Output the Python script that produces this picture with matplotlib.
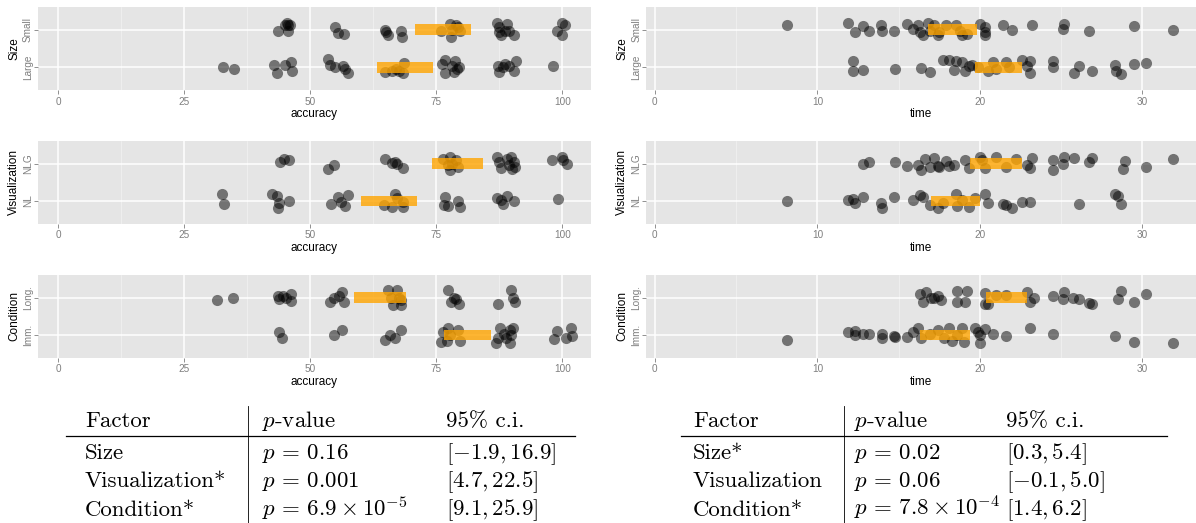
import matplotlib
matplotlib.use("Agg")
import matplotlib.pyplot as plt

plt.rcParams['font.family'] = ['Liberation Sans', 'DejaVu Sans']
plt.rcParams['mathtext.fontset'] = 'cm'

# ---- data: value, and vertical jitter (category units) ----
# accuracy by Size
acc_small = [44.9, 45.4, 45.6, 46.0, 43.5, 45.6, 55.0, 55.4, 56.6, 64.8, 65.1, 65.4, 67.9, 68.1,
             75.9, 77.8, 78.0, 78.9, 79.3, 78.2, 79.7, 87.1, 87.5, 87.9, 88.6, 89.0, 89.5, 90.5, 87.5,
             99.0, 99.9, 100.0, 100.6]
acc_small_j = [.14, .18, .12, .14, -.02, -.04, .07, -.09, -.11, 0, -.06, -.15, -.02, -.18,
               -.02, .16, -.18, .14, .07, 0, -.02, .18, .07, -.15, -.04, .16, -.02, -.15, -.06,
               -.02, .18, -.15, .12]
acc_large = [32.7, 34.9, 42.8, 43.4, 44.9, 46.2, 46.4, 53.5, 54.0, 55.0, 56.5, 56.8, 57.4,
             64.8, 66.2, 67.7, 68.3, 68.6, 67.0, 76.1, 76.7, 76.8, 78.2, 78.7, 79.1, 79.5, 78.5,
             87.3, 87.5, 88.3, 88.6, 89.5, 90.5, 90.9, 98.2]
acc_large_j = [.02, -.04, .06, -.16, .07, .15, -.11, .21, .07, .02, .04, -.04, -.16,
               -.13, -.11, -.09, -.16, .11, -.04, .09, .20, -.14, .04, .16, -.04, 0, -.12,
               .04, -.13, 0, .09, .04, -.11, .16, .04]
# time by Size
time_small = [8.13, 11.9, 12.3, 12.8, 13.2, 13.9, 14.0, 14.7, 15.5, 15.9, 16.2, 16.3, 16.5, 16.8,
              16.9, 17.2, 17.4, 17.5, 17.9, 18.5, 18.8, 18.9, 19.2, 20.0, 20.3, 20.3, 20.3, 21.4,
              22.0, 23.2, 25.1, 25.2, 26.7, 29.5, 31.9]
time_small_j = [.14, .18, -.06, .10, -.04, .12, -.04, -.04, .16, .03, .12, -.06, -.15, .18,
                -.02, .12, -.15, -.06, .12, .12, -.02, -.15, -.11, .16, .07, -.06, -.15, .14,
                0, .12, .03, .16, -.02, .09, 0]
time_large = [12.2, 12.2, 12.8, 14.8, 16.4, 16.9, 17.7, 18.1, 18.4, 18.5, 18.9, 19.1, 19.3, 19.5,
              19.9, 20.5, 20.8, 21.0, 21.6, 21.8, 22.6, 22.9, 23.1, 23.1, 24.5, 24.5, 25.8, 26.1,
              26.9, 28.3, 28.4, 28.7, 29.5, 30.2]
time_large_j = [.18, -.11, -.06, -.04, -.02, -.12, .20, .20, -.07, .16, .13, -.09, .04, .07,
                .02, -.11, .13, -.04, .13, 0, .20, .04, -.16, .18, .16, 0, -.16, .03,
                -.11, .07, -.09, -.18, .09, .11]
# accuracy by Visualization
acc_nlg = [43.9, 44.7, 45.8, 53.6, 54.8, 64.8, 66.2, 66.8, 67.3, 68.4, 76.3, 77.8, 77.4, 77.8,
           78.9, 79.3, 78.2, 87.0, 87.5, 87.9, 89.0, 89.8, 89.4, 90.1, 90.5, 90.7, 98.0, 99.9,
           100.1, 101.0]
acc_nlg_j = [.03, .11, .10, -.15, -.04, .13, .02, .04, 0, -.12, .13, .18, -.04, -.18,
             .09, -.09, 0, .18, .04, -.13, .13, .18, -.04, -.15, .04, -.09, .09, .18,
             .09, 0]
acc_nl = [32.4, 32.8, 42.4, 43.4, 43.8, 43.5, 45.8, 54.1, 55.4, 56.1, 56.9, 57.4, 64.7, 66.2,
          66.9, 67.3, 68.3, 68.4, 76.8, 76.5, 77.3, 79.3, 79.7, 87.0, 87.9, 88.3, 89.0, 90.5, 99.1]
acc_nl_j = [.20, -.07, .18, .14, -.06, -.18, 0, -.09, .12, -.02, -.12, .16, -.11, -.15,
            .18, .09, -.02, -.15, .12, -.11, -.13, 0, -.17, .09, .03, -.08, .13, 0, .05]
# time by Visualization
time_nlg = [12.8, 13.2, 14.8, 15.5, 16.2, 16.6, 16.4, 16.9, 17.2, 17.4, 17.5, 17.9, 18.1, 18.4,
            19.1, 19.3, 20.0, 20.1, 20.3, 21.0, 21.6, 22.2, 22.9, 23.1, 23.2, 24.5, 24.5, 25.1,
            25.2, 25.8, 26.7, 26.9, 28.8, 28.9, 30.2, 31.9]
time_nlg_j = [0, .03, .03, -.06, -.03, .12, -.18, -.09, .15, -.06, -.09, .06, -.06, -.04,
              .09, -.11, .18, .09, -.12, .18, -.09, .12, -.04, -.12, .15, .09, -.18, 0,
              .18, .16, .04, .16, -.15, .06, -.09, .12]
time_nl = [8.13, 11.9, 12.2, 12.3, 12.8, 13.9, 14.0, 14.7, 15.9, 16.3, 16.5, 16.9, 17.4, 17.7,
           18.5, 18.6, 18.9, 19.3, 19.7, 20.3, 20.5, 21.4, 21.6, 22.0, 22.6, 23.1, 26.1, 28.3,
           28.5, 28.7]
time_nl_j = [0, .03, .05, -.06, .10, -.06, -.18, .10, .03, .16, .12, -.11, -.19, -.06,
             .19, -.12, .03, -.17, .09, .20, -.04, -.07, -.11, -.18, -.02, -.02, -.09, .18,
             .13, -.09]
# accuracy by Condition
acc_long = [31.5, 34.7, 43.5, 43.8, 44.6, 45.1, 46.1, 46.1, 54.0, 54.8, 55.6, 56.3, 56.7, 65.4,
            66.1, 66.5, 67.3, 67.7, 68.0, 68.0, 77.3, 77.9, 78.6, 79.0, 79.5, 87.3, 89.9, 90.3, 90.7]
acc_long_j = [-.06, -.02, .05, -.04, .03, 0, .09, -.09, -.13, -.02, .03, .14, -.13, .20,
              -.02, -.20, .20, -.02, -.20, -.06, .20, -.13, 0, -.04, -.18, -.18, .20, 0, -.13]
acc_imm = [43.7, 44.4, 54.8, 56.3, 64.9, 65.8, 66.9, 67.9, 75.9, 76.3, 77.1, 77.3, 77.8, 79.4,
           79.7, 86.9, 87.3, 87.7, 88.4, 88.8, 89.6, 89.9, 89.6, 90.3, 98.3, 99.0, 100.8, 101.8, 102.0]
acc_imm_j = [.07, -.07, 0, .13, -.13, 0, -.07, .13, -.18, .09, -.16, .20, 0, .13,
             -.16, -.20, -.09, .20, .04, -.09, .13, 0, -.20, .18, -.11, .11, -.07, .20, -.03]
# time by Condition
time_long = [16.3, 16.5, 16.7, 17.0, 17.2, 17.4, 17.6, 18.6, 18.6, 19.2, 19.1, 20.3, 20.3, 20.5,
             21.0, 21.6, 22.9, 23.1, 23.3, 24.5, 25.1, 25.2, 25.7, 26.1, 26.7, 26.9, 28.5, 28.7,
             29.5, 30.2]
time_long_j = [.09, -.13, .16, 0, -.02, .03, -.06, .18, -.12, .18, -.13, -.18, .13, -.18,
               .07, .07, .16, -.13, 0, .03, -.04, .16, 0, -.04, -.15, -.18, -.04, .18,
               -.13, .10]
time_imm = [8.13, 11.9, 12.3, 12.3, 12.8, 13.2, 14.0, 14.0, 14.7, 14.8, 15.5, 15.9, 16.2, 16.4,
            16.9, 17.4, 17.8, 18.1, 18.3, 18.6, 18.9, 19.0, 19.7, 19.9, 20.0, 20.0, 20.3, 20.8,
            21.6, 23.1, 24.5, 28.3, 29.5, 31.9]
time_imm_j = [-.14, .09, .11, 0, .02, .03, -.07, .04, -.02, -.04, -.04, .09, .18, -.07,
              .04, .13, -.07, .20, -.16, 0, .20, -.18, .18, .07, -.20, 0, .16, .04,
              -.03, .18, .02, -.03, -.18, -.20]

# orange intervals (low, high) for bottom / top category
acc_size_ci = [(63.2, 74.4), (70.7, 81.9)]
time_size_ci = [(19.7, 22.6), (16.8, 19.85)]
acc_vis_ci = [(60.1, 71.2), (74.2, 84.2)]
time_vis_ci = [(17.0, 20.0), (19.4, 22.6)]
acc_cond_ci = [(76.6, 85.9), (58.6, 68.9)]
time_cond_ci = [(16.3, 19.4), (20.4, 22.9)]

factors = ['Size', 'Visualization', 'Condition']
levels = [['Large', 'Small'], ['NL', 'NLG'], ['Imm.', 'Long.']]

acc_rows = [[(acc_large, acc_large_j), (acc_small, acc_small_j)],
            [(acc_nl, acc_nl_j), (acc_nlg, acc_nlg_j)],
            [(acc_imm, acc_imm_j), (acc_long, acc_long_j)]]
time_rows = [[(time_large, time_large_j), (time_small, time_small_j)],
             [(time_nl, time_nl_j), (time_nlg, time_nlg_j)],
             [(time_imm, time_imm_j), (time_long, time_long_j)]]
acc_cis = [acc_size_ci, acc_vis_ci, acc_cond_ci]
time_cis = [time_size_ci, time_vis_ci, time_cond_ci]

# tables
acc_table = [['Size', r'$p \,=\, 0.16$', r'$[-1.9, 16.9]$'],
             ['Visualization*', r'$p \,=\, 0.001$', r'$[4.7, 22.5]$'],
             ['Condition*', r'$p \,=\, 6.9 \times 10^{-5}$', r'$[9.1, 25.9]$']]
time_table = [['Size*', r'$p \,=\, 0.02$', r'$[0.3, 5.4]$'],
              ['Visualization', r'$p \,=\, 0.06$', r'$[-0.1, 5.0]$'],
              ['Condition*', r'$p \,=\, 7.8 \times 10^{-4}$', r'$[1.4, 6.2]$']]

W, H = 1196, 523
fig = plt.figure(figsize=(W / 100, H / 100), dpi=100)

GREY = '#7F7F7F'
panel_tops = [7.3, 141, 275]
panel_h = 82.5


def panel(left, right, top, rows, ci, xlim, xticks, minor, xlabel, ylabel, ylevels):
    ax = fig.add_axes([left / W, 1 - (top + panel_h) / H, (right - left) / W, panel_h / H])
    ax.set_facecolor('#E5E5E5')
    for s in ax.spines.values():
        s.set_visible(False)
    for i, (vals, jit) in enumerate(rows):
        ys = [i + 1 + j for j in jit]
        ax.scatter(vals, ys, s=64, color='black', alpha=0.5, linewidths=0, zorder=2)
    for i, (lo, hi) in enumerate(ci):
        ax.barh(i + 1, hi - lo, left=lo, height=0.29, color='#FFA500', alpha=0.8,
                linewidth=0, zorder=3)
    ax.set_xlim(*xlim)
    ax.set_ylim(0.4, 2.6)
    ax.set_xticks(xticks)
    ax.set_xticks(minor, minor=True)
    ax.set_yticks([1, 2])
    ax.set_yticklabels(ylevels, rotation=90, va='center')
    ax.grid(True, which='major', color='white', linewidth=1.1, zorder=0)
    ax.grid(True, which='minor', axis='x', color='#F2F2F2', linewidth=0.5, zorder=0)
    ax.set_axisbelow(True)
    ax.tick_params(axis='both', which='major', length=3, width=0.6, color=GREY,
                   labelcolor=GREY, labelsize=7.2)
    ax.tick_params(axis='x', which='major', pad=2)
    ax.tick_params(axis='y', which='major', pad=0.5)
    ax.tick_params(axis='x', which='minor', length=0)
    ax.set_xlabel(xlabel, fontsize=8.5, labelpad=1)
    ax.set_ylabel(ylabel, fontsize=8.5, labelpad=2)
    return ax


for r in range(3):
    panel(37.7, 591, panel_tops[r], acc_rows[r], acc_cis[r], (-4.09, 105.7),
          [0, 25, 50, 75, 100], [12.5, 37.5, 62.5, 87.5], 'accuracy', factors[r], levels[r])
    panel(646, 1196, panel_tops[r], time_rows[r], time_cis[r], (-0.55, 33.3),
          [0, 10, 20, 30], [5, 15, 25], 'time', factors[r], levels[r])


def px(x, y):
    return x / W, 1 - y / H


def table(x0, x1, xcol, vline, rows):
    fs = 16.5
    cm = dict(fontsize=fs, family='cmr10', va='baseline')
    fig.text(*px(xcol[0], 427), 'Factor', **cm)
    fig.text(*px(xcol[1], 427), r'$p$-value', **cm)
    fig.text(*px(xcol[2], 427), '95% c.i.', **cm)
    for k, (name, pval, ci) in enumerate(rows):
        yb = 459 + 28.3 * k
        fig.text(*px(xcol[0], yb), name, **cm)
        fig.text(*px(xcol[1], yb), pval, **cm)
        fig.text(*px(xcol[2], yb), ci, **cm)
    fig.add_artist(plt.Line2D([x0 / W, x1 / W], [1 - 436 / H] * 2, color='black', lw=0.9))
    fig.add_artist(plt.Line2D([vline / W] * 2, [1 - 406 / H, 0], color='black', lw=0.6))


table(66, 575, [85, 262, 446], 248, acc_table)
table(681, 1167, [693, 854, 1006], 844, time_table)

fig.savefig('out.png', dpi=100)
